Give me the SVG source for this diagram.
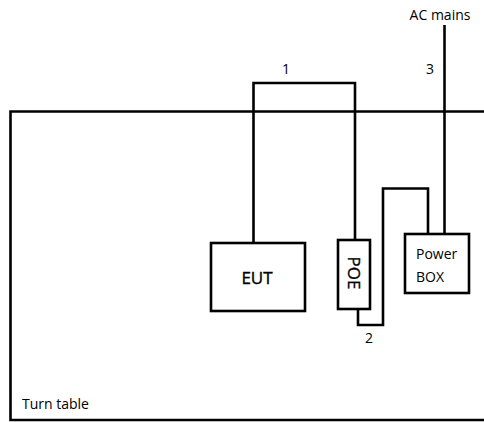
<svg xmlns="http://www.w3.org/2000/svg" width="484" height="422" viewBox="0 0 484 422">
<style>
.ln{fill:none;stroke:#000;stroke-width:2.6;stroke-linejoin:miter}
.bx{fill:#fff;stroke:#000;stroke-width:2.6}
.t{font-family:"Open Sans","Noto Sans",sans-serif;font-size:14px;fill:#000}
.lb{font-family:"Open Sans","Noto Sans",sans-serif;font-size:14px;fill:#000}
.big{font-size:17px;stroke:#000;stroke-width:0.35}
</style>
<rect width="484" height="422" fill="#fff"/>
<g id="turntable">
<path class="ln" d="M484,111.5 H10.5 V420 H484"/>
<text class="t" x="22" y="409">Turn table</text>
</g>
<g id="connectors">
<path class="ln" d="M253.5,243 V83 H355 V240"/>
<text class="lb" x="286" y="74" text-anchor="middle">1</text>
<path class="ln" d="M358,309 V325 H383 V188.5 H428 V234"/>
<text class="lb" x="369" y="343" text-anchor="middle">2</text>
<path class="ln" d="M444.5,234 V25"/>
<text class="lb" x="430" y="74" text-anchor="middle">3</text>
<text class="lb" x="440" y="20" text-anchor="middle" font-size="14.5">AC mains</text>
</g>
<g id="eut">
<rect class="bx" x="211" y="243" width="94" height="68"/>
<text class="t big" x="257" y="284" text-anchor="middle">EUT</text>
</g>
<g id="poe">
<rect class="bx" x="338" y="240" width="32" height="69"/>
<text class="t big" transform="translate(348,273) rotate(90)" x="0" y="0" text-anchor="middle">POE</text>
</g>
<g id="powerbox">
<rect class="bx" x="405" y="234" width="64" height="59"/>
<text class="t" x="416" y="259">Power</text>
<text class="t" x="416" y="282">BOX</text>
</g>
</svg>
